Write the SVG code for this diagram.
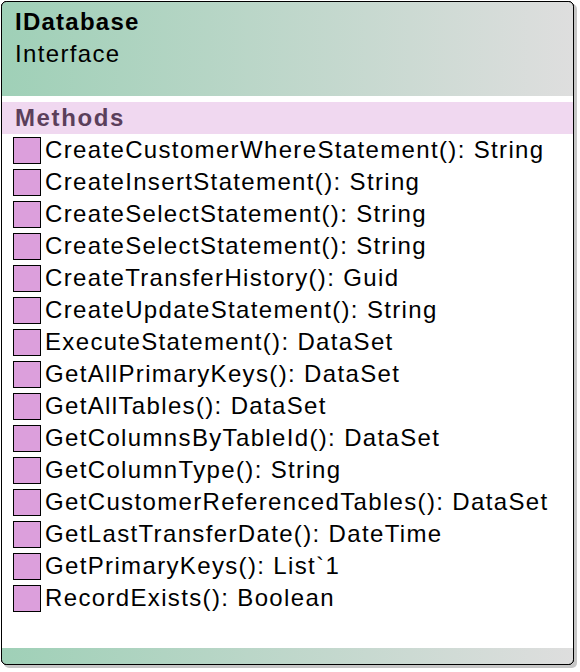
<svg xmlns="http://www.w3.org/2000/svg" width="580" height="672" viewBox="0 0 580 672">
<defs>
<linearGradient id="hg" x1="0" y1="0" x2="1" y2="0">
<stop offset="0" stop-color="#9fd0b7"/>
<stop offset="1" stop-color="#dedede"/>
</linearGradient>
<style>
.t{font-family:"Liberation Sans",Arial,sans-serif;font-size:24px;letter-spacing:1.35px;fill:#000}
.b{font-weight:bold;letter-spacing:1.25px}
.m{font-family:"Liberation Sans",Arial,sans-serif;font-size:24px;letter-spacing:1.6px;font-weight:bold;fill:#5b3f5b}
.ic{fill:#dc9fdc;stroke:#000;stroke-width:1}
</style>
</defs>
<g id="IDatabase">
<rect x="4" y="4" width="573" height="664" rx="5" fill="#a0a0a0" opacity="0.6"/>
<rect x="1.5" y="1.5" width="572" height="663" rx="5" fill="#fff" stroke="#000" stroke-width="1"/>
<path d="M2,6.5 a4.5,4.5 0 0 1 4.5,-4.5 H568.5 a4.5,4.5 0 0 1 4.5,4.5 V96 H2 Z" fill="url(#hg)"/>
<rect x="2" y="102" width="571" height="32" fill="#f0d8f0"/>
<path d="M2,648 H573 V659.5 a4.5,4.5 0 0 1 -4.5,4.5 H6.5 a4.5,4.5 0 0 1 -4.5,-4.5 Z" fill="url(#hg)"/>
<rect x="1.5" y="1.5" width="572" height="663" rx="5" fill="none" stroke="#000" stroke-width="1"/>
<text class="t b" x="15" y="30">IDatabase</text>
<text class="t" x="15" y="62">Interface</text>
<text class="m" x="15" y="126">Methods</text>
<g>
<rect class="ic" x="13.5" y="137.5" width="27" height="26"/>
<rect class="ic" x="13.5" y="169.5" width="27" height="26"/>
<rect class="ic" x="13.5" y="201.5" width="27" height="26"/>
<rect class="ic" x="13.5" y="233.5" width="27" height="26"/>
<rect class="ic" x="13.5" y="265.5" width="27" height="26"/>
<rect class="ic" x="13.5" y="297.5" width="27" height="26"/>
<rect class="ic" x="13.5" y="329.5" width="27" height="26"/>
<rect class="ic" x="13.5" y="361.5" width="27" height="26"/>
<rect class="ic" x="13.5" y="393.5" width="27" height="26"/>
<rect class="ic" x="13.5" y="425.5" width="27" height="26"/>
<rect class="ic" x="13.5" y="457.5" width="27" height="26"/>
<rect class="ic" x="13.5" y="489.5" width="27" height="26"/>
<rect class="ic" x="13.5" y="521.5" width="27" height="26"/>
<rect class="ic" x="13.5" y="553.5" width="27" height="26"/>
<rect class="ic" x="13.5" y="585.5" width="27" height="26"/>
</g>
<text class="t" x="45" y="158">CreateCustomerWhereStatement(): String</text>
<text class="t" x="45" y="190">CreateInsertStatement(): String</text>
<text class="t" x="45" y="222">CreateSelectStatement(): String</text>
<text class="t" x="45" y="254">CreateSelectStatement(): String</text>
<text class="t" x="45" y="286">CreateTransferHistory(): Guid</text>
<text class="t" x="45" y="318">CreateUpdateStatement(): String</text>
<text class="t" x="45" y="350">ExecuteStatement(): DataSet</text>
<text class="t" x="45" y="382">GetAllPrimaryKeys(): DataSet</text>
<text class="t" x="45" y="414">GetAllTables(): DataSet</text>
<text class="t" x="45" y="446">GetColumnsByTableId(): DataSet</text>
<text class="t" x="45" y="478">GetColumnType(): String</text>
<text class="t" x="45" y="510">GetCustomerReferencedTables(): DataSet</text>
<text class="t" x="45" y="542">GetLastTransferDate(): DateTime</text>
<text class="t" x="45" y="574">GetPrimaryKeys(): List`1</text>
<text class="t" x="45" y="606">RecordExists(): Boolean</text>
</g>
<g id="connectors"/>
</svg>
